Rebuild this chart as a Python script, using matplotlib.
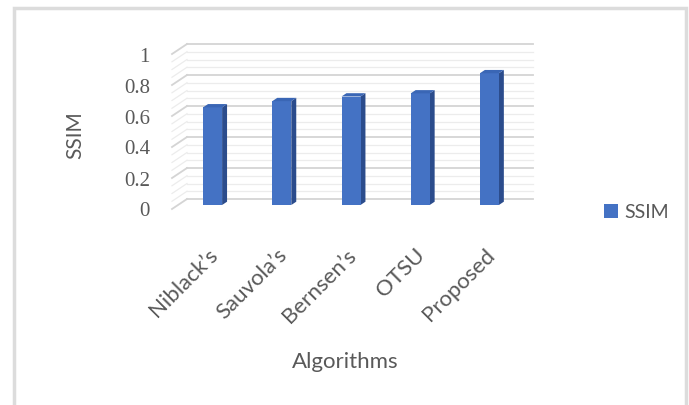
import numpy as np
import matplotlib
matplotlib.use("Agg")
import matplotlib.pyplot as plt
from matplotlib.patches import Polygon, Rectangle

# data
algorithms = ["Niblack\u2019s", "Sauvola\u2019s", "Bernsen\u2019s", "OTSU", "Proposed"]
ssim = [0.63, 0.67, 0.70, 0.72, 0.85]
y_ticks = [0, 0.2, 0.4, 0.6, 0.8, 1]
y_tick_labels = ["0", "0.2", "0.4", "0.6", "0.8", "1"]

W, H, DPI = 689, 406, 100
TEXT = "#595959"
FRONT = "#4472C4"
SIDE = "#2B4C8C"
TOP = "#3A66B5"

fig = plt.figure(figsize=(W / DPI, H / DPI), dpi=DPI)

# axes = back wall of the pseudo-3D plot area (pixel box 187..533, 45..200)
ax_l, ax_r, ax_t, ax_b = 187, 533, 45, 200
ax = fig.add_axes([ax_l / W, 1 - ax_b / H, (ax_r - ax_l) / W, (ax_b - ax_t) / H])
n = len(algorithms)
ax.set_xlim(0, n)
ax.set_ylim(0, 1)
ax.axis("off")

px_x = (ax_r - ax_l) / n      # pixels per category
px_y = (ax_b - ax_t) / 1.0    # pixels per unit value


def off(dx_px, dy_px):
    # pixel offset -> data offset (dy positive = downwards on screen)
    return dx_px / px_x, -dy_px / px_y


depth = (-15, 10)   # back wall -> front edge, in pixels
dfx, dfy = off(*depth)

# gridlines on back wall and side wall
for g in np.arange(0, 1.0001, 0.05):
    major = abs(g / 0.2 - round(g / 0.2)) < 1e-6
    c = "#d4d4d4" if major else "#ececec"
    lw = 1.3 if major else 0.9
    ax.plot([0, n], [g, g], color=c, lw=lw, zorder=1, clip_on=False)
    ax.plot([0, dfx], [g, g + dfy], color=c, lw=lw, zorder=1, clip_on=False)

# bars: front face, right side face, top face
w = 19 / px_x
fx, fy = off(depth[0] * 0.6, depth[1] * 0.6)
bx, by = off(depth[0] * 0.27, depth[1] * 0.27)
xs = np.arange(n) + 0.5
bars = ax.bar(xs + fx, ssim, width=w, bottom=fy, color=FRONT, zorder=5, label="SSIM")
for b in bars:
    b.set_clip_on(False)
for x, v in zip(xs, ssim):
    xl, xr = x - w / 2, x + w / 2
    side = [(xr + fx, fy), (xr + fx, v + fy), (xr + bx, v + by), (xr + bx, by)]
    top = [(xl + fx, v + fy), (xr + fx, v + fy), (xr + bx, v + by), (xl + bx, v + by)]
    ax.add_patch(Polygon(side, closed=True, fc=SIDE, ec="none", zorder=4, clip_on=False))
    ax.add_patch(Polygon(top, closed=True, fc=TOP, ec="none", zorder=6, clip_on=False))

# value tick labels on the front edge
lx, ly = off(-37, 12)
for t, s in zip(y_ticks, y_tick_labels):
    ax.text(lx, t + ly, s, ha="right", va="center", fontsize=15,
            family="Liberation Serif", color=TEXT, clip_on=False)

# category labels, rotated
cx, cy = off(-7, 52)
for x, name in zip(xs, algorithms):
    ax.text(x + cx, cy, name, rotation=45, rotation_mode="anchor",
            ha="right", va="center", fontsize=16, family="Lato", color=TEXT)

fig.text(75 / W, 1 - 135 / H, "SSIM", rotation=90, ha="center", va="center",
         fontsize=15, family="Lato", color=TEXT)
fig.text(345 / W, 1 - 362 / H, "Algorithms", ha="center", va="center",
         fontsize=16, family="Lato", color=TEXT)

leg = fig.legend(loc="center left", bbox_to_anchor=(586 / W, 1 - 213 / H),
                 frameon=False, handlelength=0.75, handleheight=0.75,
                 handletextpad=0.3, prop={"family": "Lato", "size": 14})
for t in leg.get_texts():
    t.set_color(TEXT)

# chart-area border
fig.patches.append(Rectangle((14 / W, -0.05), (686 - 14) / W, 1.05 - 9 / H,
                             transform=fig.transFigure, fill=False,
                             ec="#dcdcdc", lw=2.5))

fig.savefig("out.png", dpi=DPI, facecolor="white")
